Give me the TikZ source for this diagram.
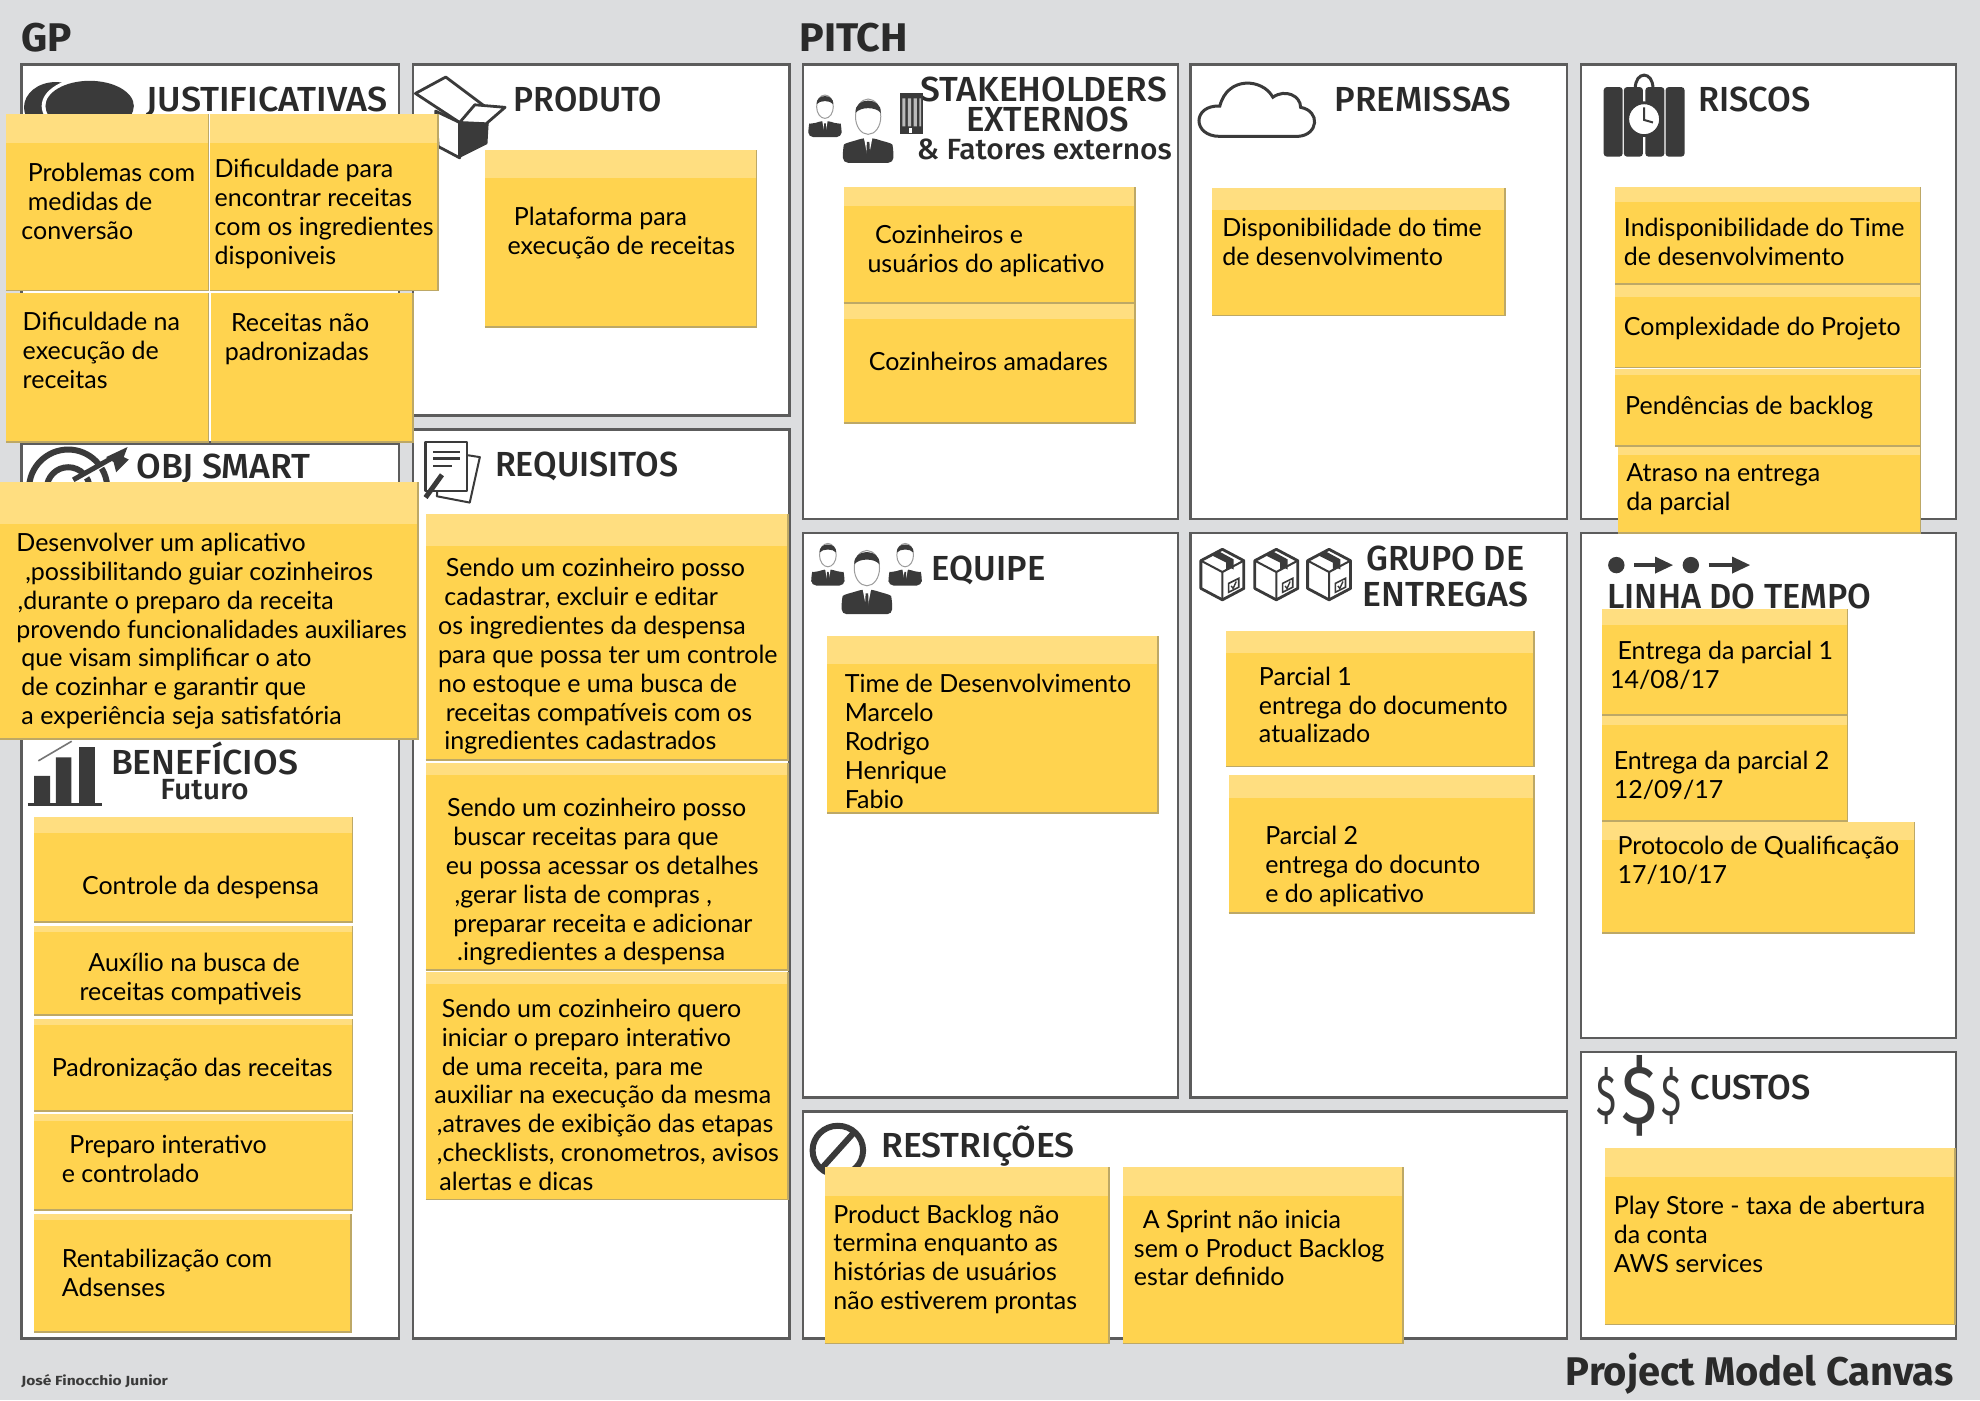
\documentclass[tikz,border=0pt]{standalone}
\usepackage{fontspec}
\usepackage{graphicx}
\usetikzlibrary{arrows.meta}
\setmainfont{Lato}
\newfontfamily\bodyf{Lato}
\newfontfamily\headf{Fira Sans Medium}
\newfontfamily\titlef{Fira Sans}
\definecolor{canvasbg}{HTML}{DCDDDF}
\definecolor{panelline}{HTML}{5C5C5C}
\definecolor{notefill}{HTML}{FFD34F}
\definecolor{noteband}{HTML}{FFDE80}
\definecolor{noteedge}{HTML}{BDA866}
\definecolor{inkdark}{HTML}{3A3A3A}
\definecolor{headink}{HTML}{2A2A2A}
\newsavebox\fitbox
\newcommand\fitw[2]{\sbox\fitbox{#2}\pgfmathsetmacro\fitr{#1*0.63138/\the\wd\fitbox}\scalebox{\fitr}[1]{\usebox\fitbox}}
\newcommand\ind[1]{\hspace*{#1\dimexpr0.63138pt\relax}}
\tikzset{
  panel/.style={fill=white,draw=panelline,line width=1.3pt},
  notetx/.style={anchor=north west,inner sep=0pt,outer sep=0pt,align=left,yshift=9pt,text=black,font=\bodyf\fontsize{12.5}{14.45}\selectfont},
  headtx/.style={anchor=base west,inner sep=0pt,outer sep=0pt,text=headink},
  icon/.style={fill=inkdark,draw=none},
  iconline/.style={draw=inkdark,line width=1pt,fill=white,line join=round},
}
% note x1 y1 x2 y2 bandbottom
\newcommand\note[5]{%
  \fill[notefill] (#1,#2) rectangle (#3,#4);
  \fill[noteband] (#1,#2) rectangle (#3,#5);
  \draw[noteedge,line width=0.8pt] (#1,#4) -- (#3,#4) -- (#3,#2);
}
\newcommand\tx[4]{\node[notetx] (#1) at (#2,#3) {\rule{0pt}{10pt}#4};}
% head name x1 x2 baseline size text
\newcommand\head[6]{\node[headtx] (#1) at (#2,#4) {\fitw{\the\numexpr#3-#2\relax}{\headf\fontsize{#5}{#5}\selectfont #6}};}
\newcommand\person[3]{%
  \begin{scope}[shift={(#1,#2)},scale=#3]
    \fill[inkdark,rounded corners=2.5] (-20,36.5) -- (-20,26) .. controls (-19,21) and (-10,19) .. (-5,17) -- (5,17) .. controls (10,19) and (19,21) .. (20,26) -- (20,36.5) -- cycle;
    \fill[white] (-3.5,16) -- (3.5,16) -- (0.8,30) -- (-0.8,30) -- cycle;
    \fill[inkdark] (-1,20) -- (1,20) -- (1.6,33) -- (-1.6,33) -- cycle;
    \draw[draw=inkdark!50,fill=white,line width=0.5pt] (0,0) ellipse [x radius=10,y radius=14];
    \fill[inkdark] (-10,-3) .. controls (-11,-16) and (11,-16) .. (10,-3) .. controls (6,-8) and (-6,-8) .. (-10,-3) -- cycle;
  \end{scope}}
\newcommand\cargo[2]{%
  \begin{scope}[shift={(#1,#2)}]
    \draw[draw=inkdark,line width=1.4pt,fill=white,line join=round] (0,-20) -- (17,-11) -- (17,11) -- (0,20) -- (-17,11) -- (-17,-11) -- cycle;
    \draw[inkdark,line width=1pt] (-17,-11) -- (0,-2) -- (17,-11) (0,-2) -- (0,20);
    \fill[inkdark] (-9,-15.5) -- (-3,-18.5) -- (9,-12) -- (9,-4) -- (6,-5.5) -- (3,-4) -- (3,-9.5) -- cycle;
    \draw[inkdark,line width=0.8pt] (5,7) -- (13,3) -- (13,10) -- (5,14) -- cycle;
    \draw[inkdark,line width=0.7pt] (7,9) -- (8.5,11) -- (11,5.5);
  \end{scope}}
\begin{document}
\begin{tikzpicture}[x=0.63138pt,y=-0.63138pt]
\useasboundingbox (0,0) rectangle (1568,1109);
\fill[canvasbg] (0,0) rectangle (1568,1109);
% panels
\draw[panel] (17,51) rectangle (316,350);
\draw[panel] (17,351) rectangle (316,585);
\draw[panel] (17,585) rectangle (316,1060);
\draw[panel] (327,51) rectangle (625,329);
\draw[panel] (327,340) rectangle (625,1060);
\draw[panel] (636,51) rectangle (933,411);
\draw[panel] (943,51) rectangle (1241,411);
\draw[panel] (1252,51) rectangle (1549,411);
\draw[panel] (636,422) rectangle (933,869);
\draw[panel] (943,422) rectangle (1241,869);
\draw[panel] (1252,422) rectangle (1549,822);
\draw[panel] (1252,833) rectangle (1549,1060);
\draw[panel] (636,880) rectangle (1241,1060);
% top and bottom titles
\node[headtx] (titlegp) at (17,41) {\fitw{40}{\titlef\bfseries\fontsize{20}{20}\selectfont GP}};
\node[headtx] (titlepitch) at (633,41) {\fitw{86}{\titlef\bfseries\fontsize{20}{20}\selectfont PITCH}};
\node[headtx] (titlecanvas) at (1240,1097) {\fitw{307}{\titlef\bfseries\fontsize{20}{20}\selectfont Project Model Canvas}};
\node[headtx,text=inkdark] (titleauthor) at (17,1097) {\fitw{116}{\titlef\bfseries\fontsize{6.6}{7}\selectfont José Finocchio Junior}};
% panel headings
\head{hjust}{116}{307}{88}{17.4}{JUSTIFICATIVAS}
\head{hprod}{407}{524}{88}{17.4}{PRODUTO}
\head{hobj}{108}{246}{379}{17.4}{OBJ SMART}
\head{hreq}{392}{537}{377}{17.4}{REQUISITOS}
\head{hbenef}{88}{236}{613}{17.4}{BENEFÍCIOS}
\head{hfut}{127}{197}{633}{14.6}{Futuro}
\head{hstk}{729}{924}{80}{17.4}{STAKEHOLDERS}
\head{hext}{765}{894}{104}{17.4}{EXTERNOS}
\head{hfat}{726}{928}{126}{14.6}{\& Fatores externos}
\head{hprem}{1057}{1197}{88}{17.4}{PREMISSAS}
\head{hrisc}{1345}{1434}{88}{17.4}{RISCOS}
\head{hequ}{738}{828}{460}{17.4}{EQUIPE}
\head{hgru}{1082}{1207}{452}{17.4}{GRUPO DE}
\head{hent}{1079}{1210}{480}{17.4}{ENTREGAS}
\head{hlin}{1273}{1482}{482}{17.4}{LINHA DO TEMPO}
\head{hcus}{1339}{1434}{871}{17.4}{CUSTOS}
\head{hres}{698}{851}{917}{17.4}{RESTRIÇÕES}
% icons
% speech bubbles
\fill[inkdark] (44,85) ellipse [x radius=25,y radius=20];
\fill[white] (71,84) ellipse [x radius=38,y radius=23];
\fill[inkdark] (71,84) ellipse [x radius=35,y radius=20];
% open box
\fill[inkdark] (362,97) -- (387,97) -- (386,114) -- (364,125) -- cycle;
\draw[iconline,line width=1.4pt] (345,88) -- (347,116) -- (364,125) -- (364,97) -- cycle;
\draw[iconline,line width=1.4pt] (329,74) -- (353,61) -- (385,85) -- (364,97) -- cycle;
\draw[iconline,line width=1.4pt] (364,97) -- (376,83) -- (400,85) -- (385,98) -- cycle;
% target with arrow
\draw[inkdark,line width=3pt] (54,387) circle [radius=31];
\draw[inkdark,line width=3pt] (54,387) circle [radius=17];
\draw[white,line width=2pt] (60,382) -- (88,364);
\draw[inkdark,line width=2.5pt] (58,380) -- (90,362);
\fill[inkdark] (84,362) -- (101,354) -- (98,362) -- (102,364) -- (92,374) -- (90,366) -- cycle;
% requirement sheets
\draw[iconline] (348,357) -- (380,362) -- (372,398) -- (346,393) -- cycle;
\draw[iconline,line width=1.2pt] (337,350) -- (370,350) -- (370,389) -- (337,389) -- cycle;
\draw[inkdark,line width=1.2pt] (343,358) -- (364,358) (343,363) -- (364,363) (343,369) -- (358,369);
\draw[inkdark,line width=2.5pt] (337,394) -- (350,376);
% bars
\fill[inkdark] (27,614.5) rectangle (39.6,636) (44.3,599.7) rectangle (56.5,636) (62.6,591.7) rectangle (75.2,636);
\draw[inkdark,line width=1.2pt] (22,637) -- (81,637);
\draw[inkdark!70,line width=0.8pt] (30.4,602.5) -- (56.8,587);
% stakeholders
\person{653.3}{84.5}{0.66}
\person{687.5}{92.4}{1}
\fill[inkdark] (713,74) rectangle (731,106);
\fill[white!65!inkdark] (714.5,78) rectangle (717,100) (719,78) rectangle (721.5,100) (723.5,78) rectangle (726,100) (728,78) rectangle (729.5,100);
\fill[white] (720,101) rectangle (722,105);
% cloud
\draw[draw=inkdark,line width=1.5pt,fill=white] (966,108) .. controls (944,108) and (944,83) .. (966,84) .. controls (972,60) and (1000,62) .. (1008,77) .. controls (1018,70) and (1030,76) .. (1030,85) .. controls (1046,88) and (1044,107) .. (1028,108) -- cycle;
% dynamite
\foreach \dx in {1270,1286,1303,1319} {\fill[inkdark,rounded corners=1.5] (\dx,69) rectangle (\dx+15,124);}
\draw[inkdark,line width=1.5pt] (1295,70) .. controls (1295,56) and (1309,56) .. (1309,70);
\draw[draw=inkdark,fill=white,line width=1.4pt] (1302,94.4) circle [radius=13];
\draw[inkdark,line width=1pt] (1302,85) -- (1302,95) -- (1309,97);
% team
\person{655.6}{439.6}{0.66}
\person{716.8}{439.6}{0.66}
\person{686.5}{449.9}{1}
% delivery boxes
\cargo{968}{455}
\cargo{1010.7}{455}
\cargo{1052.5}{455}
% timeline
\fill[inkdark] (1280,447.5) circle [radius=6.5] (1339,447.5) circle [radius=6.5];
\draw[inkdark,line width=1.6pt,-{Triangle[length=9pt,width=8pt]}] (1294,447.5) -- (1325,447.5);
\draw[inkdark,line width=1.6pt,-{Triangle[length=9pt,width=8pt]}] (1353,447.5) -- (1386,447.5);
% dollars
\node[headtx,anchor=center,text=inkdark] (dollarl) at (1272.5,868) {\resizebox{10pt}{24pt}{\titlef\$}};
\node[headtx,anchor=center,text=inkdark] (dollarb) at (1298.5,868) {\resizebox{18pt}{34pt}{\titlef\$}};
\node[headtx,anchor=center,text=inkdark] (dollarr) at (1323.5,868) {\resizebox{10pt}{24pt}{\titlef\$}};
% no sign
\draw[inkdark,line width=3pt] (663.5,911) ellipse [x radius=20,y radius=19.5];
\draw[inkdark,line width=3pt] (650,926) -- (677,896);
% notes: justificativas
\note{5}{90}{165}{230}{113}
\note{166}{90}{347}{230}{113}
\note{5}{232}{165}{350}{232}
\note{167}{232}{327}{350}{232}
\tx{nja}{17}{142.5}{\ind{5}Problemas com\\\ind{5}medidas de\\conversão}
\tx{njb}{170}{139}{Dificuldade para\\encontrar receitas\\com os ingredientes\\disponiveis}
\tx{njc}{18}{260}{Dificuldade na\\execução de\\receitas}
\tx{njd}{178}{261}{\ind{5}Receitas não\\padronizadas}
% produto
\note{384}{119}{599}{259}{141}
\tx{npr}{402}{177}{\ind{5}Plataforma para\\execução de receitas}
% objetivo
\note{0}{382}{331}{585}{415}
\tx{nob}{13}{435}{Desenvolver um aplicativo\\\ind{7},possibilitando guiar cozinheiros\\\ind{1},durante o preparo da receita\\provendo funcionalidades auxiliares\\\ind{4}que visam simplificar o ato\\\ind{4}de cozinhar e garantir que\\\ind{4}a experiência seja satisfatória}
% requisitos
\note{337}{407}{624}{602}{432}
\note{337}{604}{624}{768}{614}
\note{337}{770}{624}{950}{779}
\tx{nra}{347}{455}{\ind{6}Sendo um cozinheiro posso\\\ind{5}cadastrar, excluir e editar\\os ingredientes da despensa\\para que possa ter um controle\\no estoque e uma busca de\\\ind{6}receitas compatíveis com os\\\ind{5}ingredientes cadastrados}
\tx{nrb}{353}{645}{\ind{1}Sendo um cozinheiro posso\\\ind{6}buscar receitas para que\\eu possa acessar os detalhes\\\ind{7},gerar lista de compras ,\\\ind{6}preparar receita e adicionar\\\ind{9}.ingredientes a despensa}
\tx{nrc}{344}{804}{\ind{6}Sendo um cozinheiro quero\\\ind{6}iniciar o preparo interativo\\\ind{6}de uma receita, para me\\auxiliar na execução da mesma\\\ind{2},atraves de exibição das etapas\\\ind{2},checklists, cronometros, avisos\\\ind{4}alertas e dicas}
% beneficios
\note{27}{647}{279}{730}{660}
\note{27}{733}{279}{804}{738}
\note{27}{807}{279}{880}{812}
\note{27}{882}{279}{958}{888}
\note{27}{961}{278}{1055}{966}
\tx{nba}{65}{707}{Controle da despensa}
\tx{nbb}{63}{768}{\ind{7}Auxílio na busca de\\receitas compativeis}
\tx{nbc}{41}{851}{Padronização das receitas}
\tx{nbd}{49}{912}{\ind{6}Preparo interativo\\e controlado}
\tx{nbe}{49}{1002}{Rentabilização com\\Adsenses}
% stakeholders
\note{668}{148}{899}{240}{163}
\note{668}{241}{899}{335}{253}
\tx{nsa}{687}{191}{\ind{6}Cozinheiros e\\usuários do aplicativo}
\tx{nsb}{688}{292}{Cozinheiros amadares}
% premissas
\note{960}{149}{1192}{250}{166}
\tx{npm}{968}{186}{Disponibilidade do time\\de desenvolvimento}
% riscos
\note{1279}{148}{1521}{225}{160}
\note{1279}{226}{1521}{291}{235}
\note{1279}{292}{1521}{353}{297}
\note{1281}{354}{1521}{422}{360}
\tx{nka}{1286}{186}{Indisponibilidade do Time\\de desenvolvimento}
\tx{nkb}{1286}{264}{Complexidade do Projeto}
\tx{nkc}{1287}{327}{Pendências de backlog}
\tx{nkd}{1288}{380}{Atraso na entrega\\da parcial}
% equipe
\note{655}{504}{917}{644}{526}
\tx{neq}{669}{547}{Time de Desenvolvimento\\Marcelo\\Rodrigo\\Henrique\\Fabio}
% grupo de entregas
\note{971}{500}{1215}{607}{517}
\note{973}{614}{1215}{723}{632}
\tx{nga}{997}{541}{Parcial 1\\entrega do documento\\atualizado}
\tx{ngb}{1002}{667}{Parcial 2\\entrega do docunto\\e do aplicativo}
% linha do tempo
\note{1269}{482}{1463}{566}{495}
\note{1269}{567}{1463}{650}{574}
\note{1269}{651}{1516}{739}{665}
\tx{nla}{1275}{521}{\ind{6}Entrega da parcial 1\\14/08/17}
\tx{nlb}{1278}{608}{Entrega da parcial 2\\12/09/17}
\tx{nlc}{1281}{675}{Protocolo de Qualificação\\17/10/17}
% custos
\note{1271}{909}{1548}{1049}{932}
\tx{ncu}{1278}{960}{Play Store - taxa de abertura\\da conta\\AWS services}
% restricoes
\note{653}{924}{878}{1064}{947}
\note{889}{924}{1111}{1064}{947}
\tx{nrs}{660}{967}{Product Backlog não\\termina enquanto as\\histórias de usuários\\não estiverem prontas}
\tx{nrt}{898}{971}{\ind{7}A Sprint não inicia\\sem o Product Backlog\\estar definido}
\end{tikzpicture}
\end{document}
